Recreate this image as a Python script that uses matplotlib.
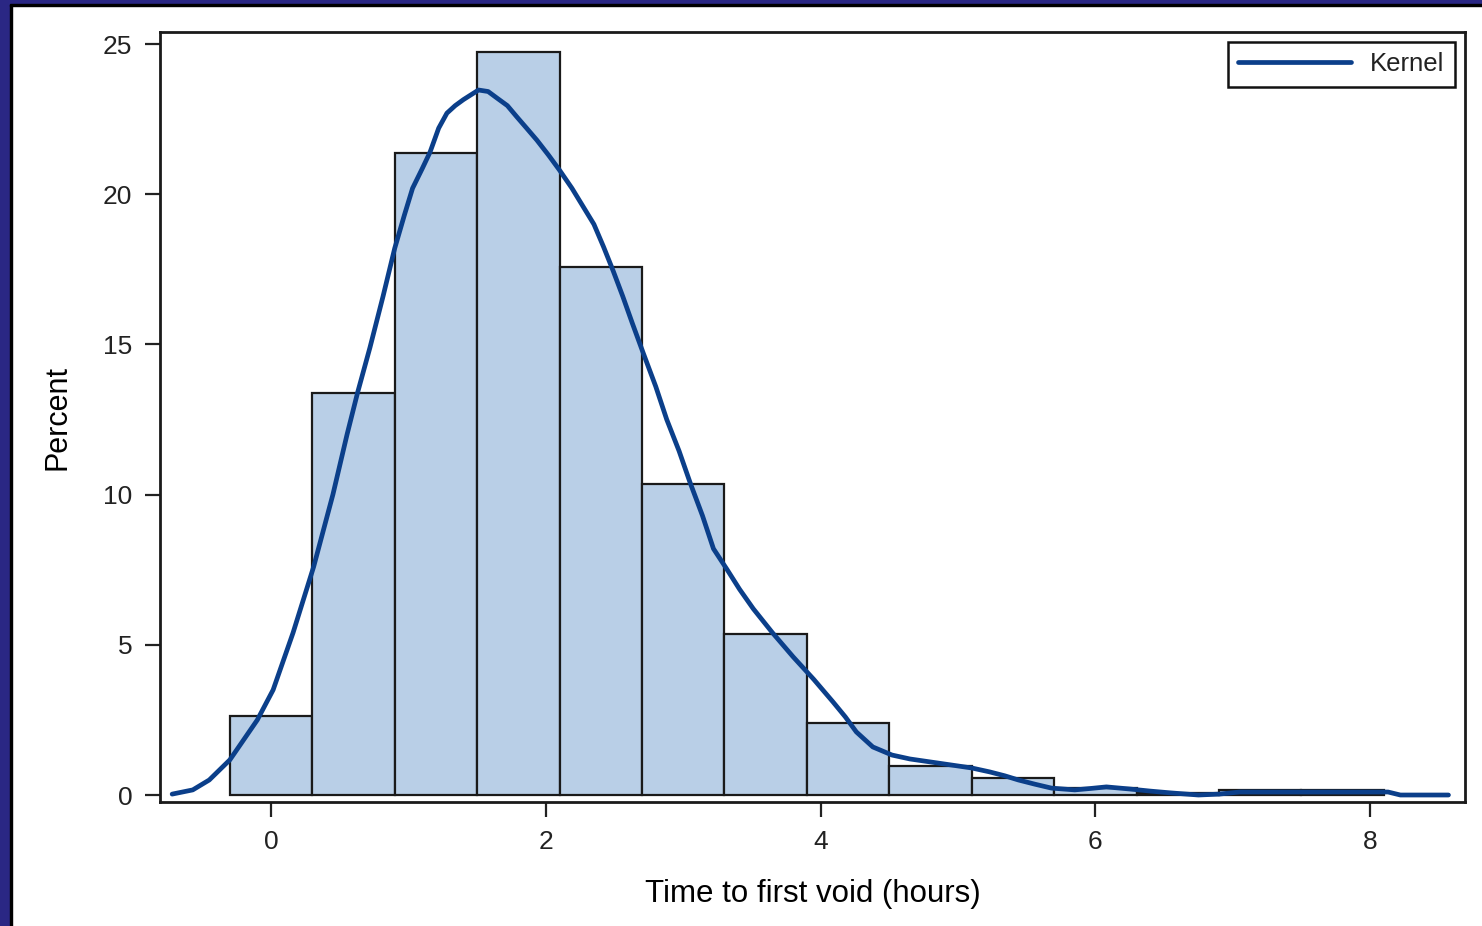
import numpy as np
import matplotlib
matplotlib.use("Agg")
import matplotlib.pyplot as plt
from matplotlib.patches import Rectangle

plt.rcParams["font.family"] = ["Liberation Sans", "DejaVu Sans"]

# histogram bins (hours) and bar heights (percent)
bin_edges = [-0.3, 0.3, 0.9, 1.5, 2.1, 2.7, 3.3, 3.9, 4.5, 5.1, 5.7, 6.3, 6.9, 7.5, 8.1]
percent = [2.63, 13.38, 21.37, 24.73, 17.58, 10.35, 5.36, 2.40, 0.97, 0.57,
           0.23, 0.06, 0.17, 0.17]

# kernel density curve
kernel_x = [-0.72, -0.57, -0.45, -0.30, -0.10, 0.015, 0.16, 0.31, 0.45, 0.553,
            0.63, 0.72, 0.815, 0.90, 0.97, 1.03, 1.10, 1.157, 1.22, 1.28,
            1.34, 1.40, 1.51, 1.58, 1.645, 1.72, 1.79, 1.86, 1.935, 2.02,
            2.10, 2.19, 2.27, 2.35, 2.42, 2.49, 2.56, 2.63, 2.71, 2.80,
            2.88, 2.97, 3.05, 3.14, 3.22, 3.32, 3.41, 3.51, 3.65, 3.80,
            3.95, 4.09, 4.18, 4.26, 4.38, 4.52, 4.65, 4.80, 4.95, 5.10,
            5.23, 5.34, 5.44, 5.56, 5.68, 5.85, 5.97, 6.08, 6.25, 6.40,
            6.55, 6.75, 6.90, 7.05, 7.43, 7.80, 8.13, 8.22, 8.57]
kernel_y = [0.03, 0.17, 0.5, 1.17, 2.5, 3.5, 5.4, 7.6, 10.0, 12.0,
            13.4, 14.9, 16.6, 18.2, 19.3, 20.2, 20.85, 21.4, 22.2, 22.7,
            22.95, 23.15, 23.47, 23.42, 23.2, 22.95, 22.57, 22.2, 21.8, 21.3,
            20.8, 20.2, 19.6, 19.0, 18.25, 17.45, 16.6, 15.7, 14.7, 13.6,
            12.5, 11.45, 10.4, 9.3, 8.2, 7.5, 6.85, 6.2, 5.4, 4.6,
            3.85, 3.1, 2.6, 2.1, 1.6, 1.33, 1.2, 1.1, 1.0, 0.9,
            0.77, 0.64, 0.5, 0.36, 0.23, 0.17, 0.22, 0.27, 0.2, 0.13,
            0.07, 0.0, 0.03, 0.1, 0.1, 0.1, 0.1, 0.0, 0.0]

x_ticks = [0, 2, 4, 6, 8]
y_ticks = [0, 5, 10, 15, 20, 25]

fig = plt.figure(figsize=(14.82, 9.26), dpi=100)
ax = fig.add_axes([0.108, 0.1339, 0.8805, 0.8315])

widths = np.diff(bin_edges)
ax.bar(bin_edges[:-1], percent, width=widths, align="edge",
       color="#b9cfe7", edgecolor="#1a1a1a", linewidth=1.6, zorder=2)
ax.plot(kernel_x, kernel_y, color="#0b3f8a", linewidth=3.4, zorder=3,
        label="Kernel", solid_capstyle="round", solid_joinstyle="round")

ax.set_xlim(-0.808, 8.69)
ax.set_ylim(-0.233, 25.4)
ax.set_xticks(x_ticks)
ax.set_yticks(y_ticks)
ax.tick_params(direction="out", length=11, width=1.6, labelsize=19,
               colors="#222222", pad=9)
for s in ax.spines.values():
    s.set_linewidth(2.0)
    s.set_color("#1a1a1a")

ax.set_xlabel("Time to first void (hours)", fontsize=22.5, labelpad=18)
ax.set_ylabel("Percent", fontsize=22, labelpad=22)

leg = ax.legend(loc="upper right", bbox_to_anchor=(0.9923, 0.987),
                borderaxespad=0, fontsize=18.5, handlelength=4.4,
                handletextpad=0.75, borderpad=0.4, fancybox=False,
                framealpha=1)
leg.get_frame().set_edgecolor("#111111")
leg.get_frame().set_linewidth(1.8)
for t in leg.get_texts():
    t.set_color("#222222")

# dark frame strips on the left and top edges
W, H = 1482, 926
fig.patches.append(Rectangle((0, 0), 10 / W, 1, transform=fig.transFigure,
                             color="#2a2784", zorder=10))
fig.patches.append(Rectangle((10 / W, 0), 2 / W, 1 - 4 / H, transform=fig.transFigure,
                             color="#000000", zorder=10))
fig.patches.append(Rectangle((0, 1 - 4 / H), 1, 4 / H, transform=fig.transFigure,
                             color="#2a2784", zorder=10))
fig.patches.append(Rectangle((10 / W, 1 - 6 / H), 1, 2 / H, transform=fig.transFigure,
                             color="#000000", zorder=10))

fig.savefig("out.png", dpi=100)
plt.close(fig)
